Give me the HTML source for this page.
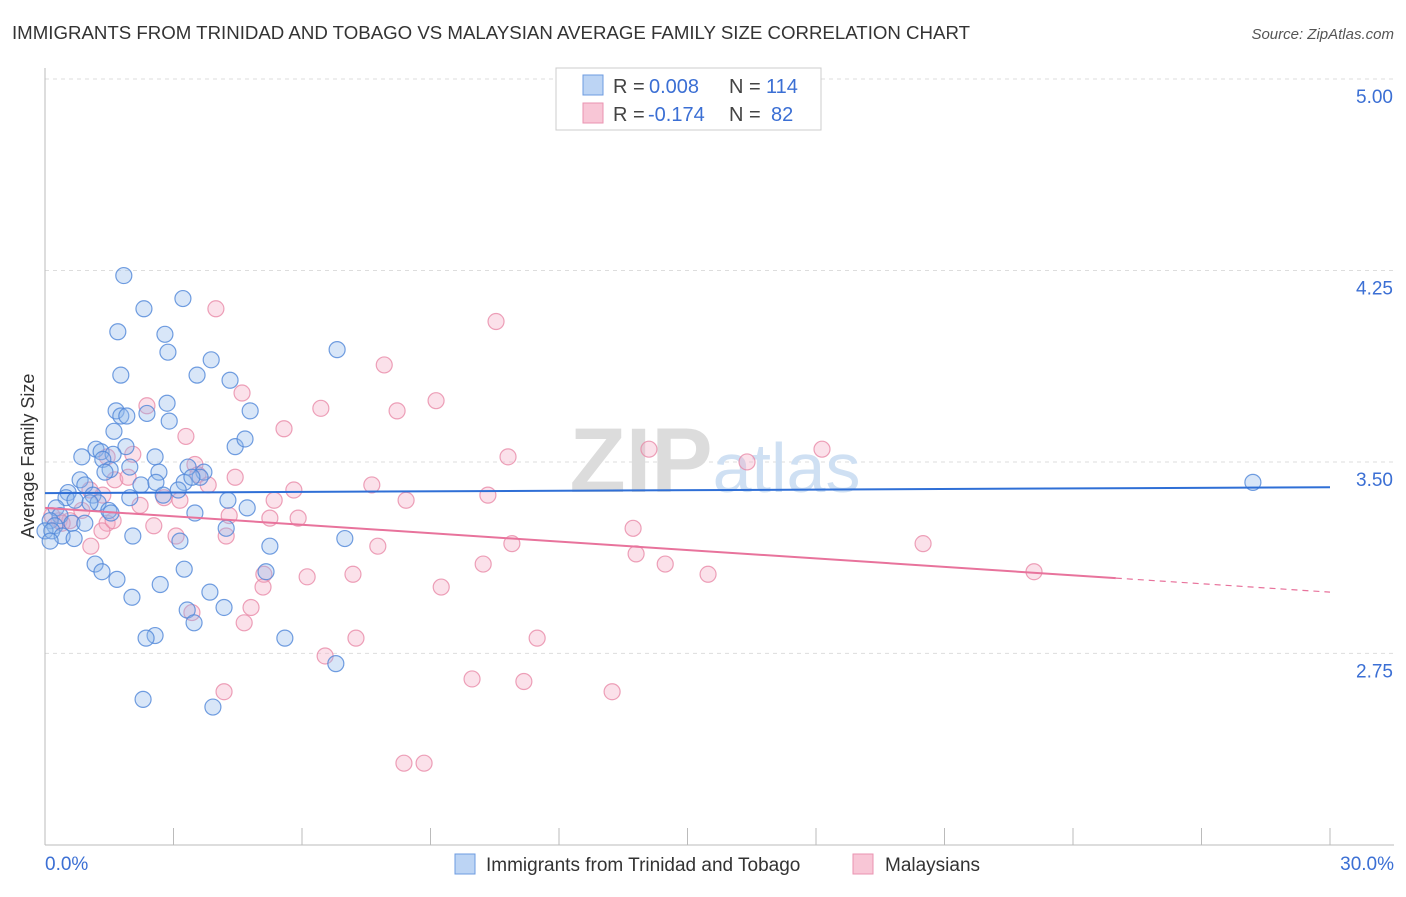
<!DOCTYPE html>
<html><head><meta charset="utf-8"><style>
body{margin:0;background:#fff;font-family:"Liberation Sans",sans-serif;}
svg text{font-family:"Liberation Sans",sans-serif;}
</style></head><body>
<svg id="chart" width="1406" height="892" viewBox="0 0 1406 892">
<text x="12" y="39" font-size="18.7" fill="#333" textLength="958" lengthAdjust="spacingAndGlyphs">IMMIGRANTS FROM TRINIDAD AND TOBAGO VS MALAYSIAN AVERAGE FAMILY SIZE CORRELATION CHART</text>
<text x="1394" y="39" font-size="15" fill="#555" font-style="italic" text-anchor="end">Source: ZipAtlas.com</text>
<g id="grid"></g>
<text x="715" y="492" font-size="92" fill="#e3e3e3" text-anchor="middle" font-family="Liberation Serif"><tspan font-weight="bold" fill="#dcdcdc">ZIP</tspan><tspan fill="#cfe0f3" font-family="Liberation Sans" font-size="70">atlas</tspan></text>
<g id="axes"></g>
<g id="marks"></g>
<text transform="translate(34,456) rotate(-90)" font-size="18" fill="#333" text-anchor="middle">Average Family Size</text>
<g>
<rect x="556" y="68" width="265" height="62" fill="#fff" stroke="#ccc"/>
<rect x="583" y="75" width="20" height="20" fill="#bcd4f4" stroke="#6d9be0"/>
<rect x="583" y="103" width="20" height="20" fill="#f8c6d6" stroke="#ea93b0"/>
<text y="93" font-size="20" fill="#444"><tspan x="613">R =</tspan><tspan x="649" fill="#3b6fd4">0.008</tspan><tspan x="729">N =</tspan><tspan x="766" fill="#3b6fd4">114</tspan></text>
<text y="121" font-size="20" fill="#444"><tspan x="613">R =</tspan><tspan x="648" fill="#3b6fd4">-0.174</tspan><tspan x="729">N =</tspan><tspan x="771" fill="#3b6fd4">82</tspan></text>
</g>
<g>
<rect x="455" y="854" width="20" height="20" fill="#bcd4f4" stroke="#6d9be0"/>
<text x="486" y="871" font-size="19" fill="#333">Immigrants from Trinidad and Tobago</text>
<rect x="853" y="854" width="20" height="20" fill="#f8c6d6" stroke="#ea93b0"/>
<text x="885" y="871" font-size="19" fill="#333">Malaysians</text>
</g>
</svg>
<script>
const yTicks=[5.00,4.25,3.50,2.75];
const yTickLabels=["5.00","4.25","3.50","2.75"];
const xLabels=["0.0%","30.0%"];
const blueX=[1.84,3.22,2.31,1.70,2.80,2.87,3.88,6.82,1.77,3.55,4.32,2.85,1.66,2.38,4.79,1.77,1.91,2.90,1.61,4.44,4.67,1.89,1.19,1.31,1.59,0.86,2.57,1.35,3.34,1.98,1.52,2.66,3.71,1.40,0.82,0.93,2.24,3.25,2.59,3.62,3.43,0.54,1.12,0.49,1.98,2.76,3.11,0.70,1.24,1.05,0.26,1.49,4.27,1.54,4.72,3.50,0.35,0.12,0.63,0.93,0.23,4.23,0.0,0.16,0.40,0.68,2.05,3.15,7.00,5.25,0.12,1.17,1.33,3.25,1.68,2.69,5.16,3.85,2.03,3.32,4.18,3.48,2.57,2.36,5.60,6.79,2.29,3.92,28.20];
const blueY=[4.23,4.14,4.10,4.01,4.00,3.93,3.90,3.94,3.84,3.84,3.82,3.73,3.70,3.69,3.70,3.68,3.68,3.66,3.62,3.56,3.59,3.56,3.55,3.54,3.53,3.52,3.52,3.51,3.48,3.48,3.47,3.46,3.46,3.46,3.43,3.41,3.41,3.42,3.42,3.44,3.44,3.38,3.37,3.36,3.36,3.37,3.39,3.35,3.34,3.34,3.32,3.31,3.35,3.30,3.32,3.30,3.29,3.27,3.26,3.26,3.25,3.24,3.23,3.23,3.21,3.20,3.21,3.19,3.20,3.17,3.19,3.10,3.07,3.08,3.04,3.02,3.07,2.99,2.97,2.92,2.93,2.87,2.82,2.81,2.81,2.71,2.57,2.54,3.42];
const pinkX=[3.99,10.53,7.92,4.60,2.38,9.13,6.44,8.22,3.29,5.58,18.14,14.10,10.81,16.39,2.05,1.45,3.50,4.44,3.57,7.63,10.34,8.43,5.81,3.81,2.78,5.35,1.35,1.63,1.94,1.05,3.15,2.22,4.30,5.25,5.91,0.33,0.58,1.45,2.54,1.33,3.06,4.23,13.73,10.90,7.77,20.50,1.07,13.80,10.23,14.48,5.11,7.19,6.12,15.48,23.09,5.09,9.25,4.81,3.43,4.65,7.26,11.49,6.54,9.97,11.18,13.24,4.18,8.38,8.85,0.16,0.40,0.86,1.59];
const pinkY=[4.10,4.05,3.88,3.77,3.72,3.74,3.71,3.70,3.60,3.63,3.55,3.55,3.52,3.50,3.53,3.52,3.49,3.44,3.45,3.41,3.37,3.35,3.39,3.41,3.36,3.35,3.37,3.43,3.44,3.39,3.35,3.33,3.29,3.28,3.28,3.27,3.27,3.26,3.25,3.23,3.21,3.21,3.24,3.18,3.17,3.18,3.17,3.14,3.10,3.10,3.06,3.06,3.05,3.06,3.07,3.01,3.01,2.93,2.91,2.87,2.81,2.81,2.74,2.65,2.64,2.60,2.60,2.32,2.32,3.29,3.26,3.31,3.27];
const blueTrend=[3.378,3.401];
const pinkTrend=[3.320,2.990];
const pinkSolidEnd=25.0;

const NS="http://www.w3.org/2000/svg";
const X0=45,X1=1330,YTOP=79,YPX=255.3;
function sx(v){return X0+(X1-X0)*v/30;}
function sy(v){return YTOP+(5-v)*YPX;}
function mk(tag,attrs,parent){const e=document.createElementNS(NS,tag);for(const k in attrs)e.setAttribute(k,attrs[k]);parent.appendChild(e);return e;}
const grid=document.getElementById('grid'),axes=document.getElementById('axes'),marks=document.getElementById('marks');
yTicks.forEach((t,i)=>{
  const l=mk('line',{x1:X0,x2:1394,y1:sy(t),y2:sy(t),stroke:'#ddd','stroke-dasharray':'4,4'},grid);
  
  
  const tx=mk('text',{x:1393,y:sy(t)+24,'font-size':19,fill:'#3b6fd4','text-anchor':'end'},axes);
  tx.textContent=yTickLabels[i];
  
  
});
let a=mk('line',{x1:X0,x2:X0,y1:68,y2:845,stroke:'#bbb'},axes);


a=mk('line',{x1:X0,x2:1394,y1:845,y2:845,stroke:'#bbb'},axes);


for(let i=0;i<=10;i++){
  const t=mk('line',{x1:sx(i*3),x2:sx(i*3),y1:828,y2:845,stroke:'#bbb'},axes);
  
  
}
[[0,'start',45],[30,'end',1394]].forEach((d,i)=>{
  const tx=mk('text',{x:d[2],y:870,'font-size':19,fill:'#3b6fd4','text-anchor':d[1]},axes);
  tx.textContent=xLabels[i];
  
  
});
function pts(xs,ys,fill,stroke,name){
  xs.forEach((x,i)=>{
    const c=mk('circle',{cx:sx(x),cy:sy(ys[i]),r:8,fill:fill,'fill-opacity':0.35,stroke:stroke,'stroke-width':1.2,'stroke-opacity':0.8},marks);
    
    
  });
}
pts(pinkX,pinkY,'#f4a9c2','#e88aa8','malaysian-point');
pts(blueX,blueY,'#8fb6ec','#4f86d8','trinidad-point');
let tl=mk('line',{x1:sx(0),y1:sy(blueTrend[0]),x2:sx(30),y2:sy(blueTrend[1]),stroke:'#2f6fd6','stroke-width':2},marks);


const pm=pinkTrend[0]+(pinkTrend[1]-pinkTrend[0])*pinkSolidEnd/30;
tl=mk('line',{x1:sx(0),y1:sy(pinkTrend[0]),x2:sx(pinkSolidEnd),y2:sy(pm),stroke:'#e8739c','stroke-width':2},marks);


tl=mk('line',{x1:sx(pinkSolidEnd),y1:sy(pm),x2:sx(30),y2:sy(pinkTrend[1]),stroke:'#e8739c','stroke-width':1.2,'stroke-dasharray':'6,5'},marks);


</script>
</body></html>
